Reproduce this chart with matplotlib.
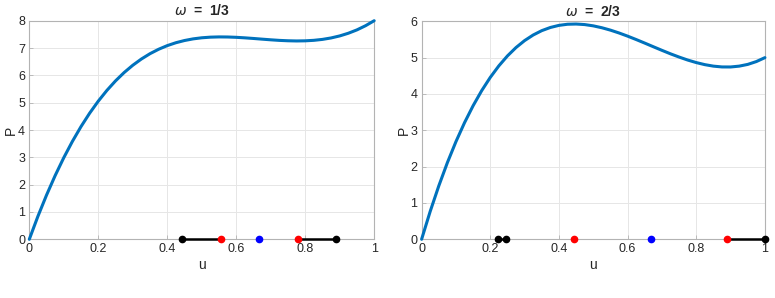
import numpy as np
import matplotlib
matplotlib.use('Agg')
from matplotlib import pyplot as plt

plt.rcParams['font.family'] = ['Liberation Sans', 'DejaVu Sans']

# curve samples
u = [0.0, 0.025, 0.05, 0.075, 0.1, 0.125, 0.15, 0.175, 0.2, 0.225, 0.25,
     0.275, 0.3, 0.325, 0.35, 0.375, 0.4, 0.425, 0.45, 0.475, 0.5,
     0.525, 0.55, 0.575, 0.6, 0.625, 0.65, 0.675, 0.7, 0.725, 0.75,
     0.775, 0.8, 0.825, 0.85, 0.875, 0.9, 0.925, 0.95, 0.975, 1.0]
p_left = [0.0, 0.842, 1.618, 2.333, 2.987, 3.584, 4.126, 4.616, 5.056, 5.449, 5.797,
          6.103, 6.369, 6.598, 6.793, 6.955, 7.088, 7.194, 7.275, 7.335, 7.375,
          7.398, 7.407, 7.404, 7.392, 7.373, 7.350, 7.325, 7.301, 7.280, 7.266,
          7.259, 7.264, 7.282, 7.316, 7.369, 7.443, 7.541, 7.664, 7.817, 8.0]
p_right = [0.0, 0.767, 1.468, 2.108, 2.687, 3.209, 3.676, 4.091, 4.456, 4.774, 5.047,
           5.278, 5.469, 5.623, 5.743, 5.830, 5.888, 5.919, 5.925, 5.910, 5.875,
           5.823, 5.757, 5.679, 5.592, 5.498, 5.400, 5.300, 5.201, 5.105, 5.016,
           4.934, 4.864, 4.807, 4.766, 4.744, 4.743, 4.766, 4.814, 4.892, 5.0]

# points on the u axis
left_segments = [(0.444, 0.556), (0.778, 0.889)]
left_black = [0.444, 0.889]
left_red = [0.556, 0.778]
left_blue = [0.667]

right_segments = [(0.222, 0.245), (0.889, 1.0)]
right_black = [0.222, 0.245, 1.0]
right_red = [0.444, 0.889]
right_blue = [0.667]

titles = [r'$\omega$  =  1/3', r'$\omega$  =  2/3']
ylims = [8, 6]

fig = plt.figure(figsize=(7.75, 2.98), dpi=100)
ax1 = fig.add_axes([0.0378, 0.197, 0.445, 0.7335])
ax2 = fig.add_axes([0.544, 0.197, 0.443, 0.7315])

panels = [
    (ax1, p_left, left_segments, left_black, left_red, left_blue),
    (ax2, p_right, right_segments, right_black, right_red, right_blue),
]

for i, (ax, p, segs, blk, red, blue) in enumerate(panels):
    ax.plot(u, p, color='#0072BD', lw=2.2, zorder=3, clip_on=False,
            solid_joinstyle='round', solid_capstyle='round')
    for a, b in segs:
        ax.plot([a, b], [0, 0], color='black', lw=1.8, zorder=4, clip_on=False)
    ax.plot(blk, [0] * len(blk), 'o', color='black', ms=4.5, zorder=5, clip_on=False)
    ax.plot(red, [0] * len(red), 'o', color='red', ms=4.5, zorder=5, clip_on=False)
    ax.plot(blue, [0] * len(blue), 'o', color='blue', ms=4.5, zorder=5, clip_on=False)

    ax.set_xlim(0, 1)
    ax.set_ylim(0, ylims[i])
    ax.set_xticks([0, 0.2, 0.4, 0.6, 0.8, 1])
    ax.set_xticklabels(['0', '0.2', '0.4', '0.6', '0.8', '1'])
    ax.set_yticks(range(0, ylims[i] + 1))
    ax.grid(True, color='#e6e6e6', lw=0.7)
    ax.set_axisbelow(True)
    for s in ax.spines.values():
        s.set_color('#b3b3b3')
        s.set_linewidth(0.8)
    ax.tick_params(direction='in', length=3, width=0.6, color='#b3b3b3',
                   labelsize=9, labelcolor='#262626', pad=3)
    ax.set_xlabel('u', fontsize=10, color='#262626', labelpad=2)
    ax.set_ylabel('P', fontsize=10, color='#262626', labelpad=0)
    ax.set_title(titles[i], fontsize=10, fontweight='bold', color='#262626', pad=4)

fig.savefig('out.png', dpi=100)
